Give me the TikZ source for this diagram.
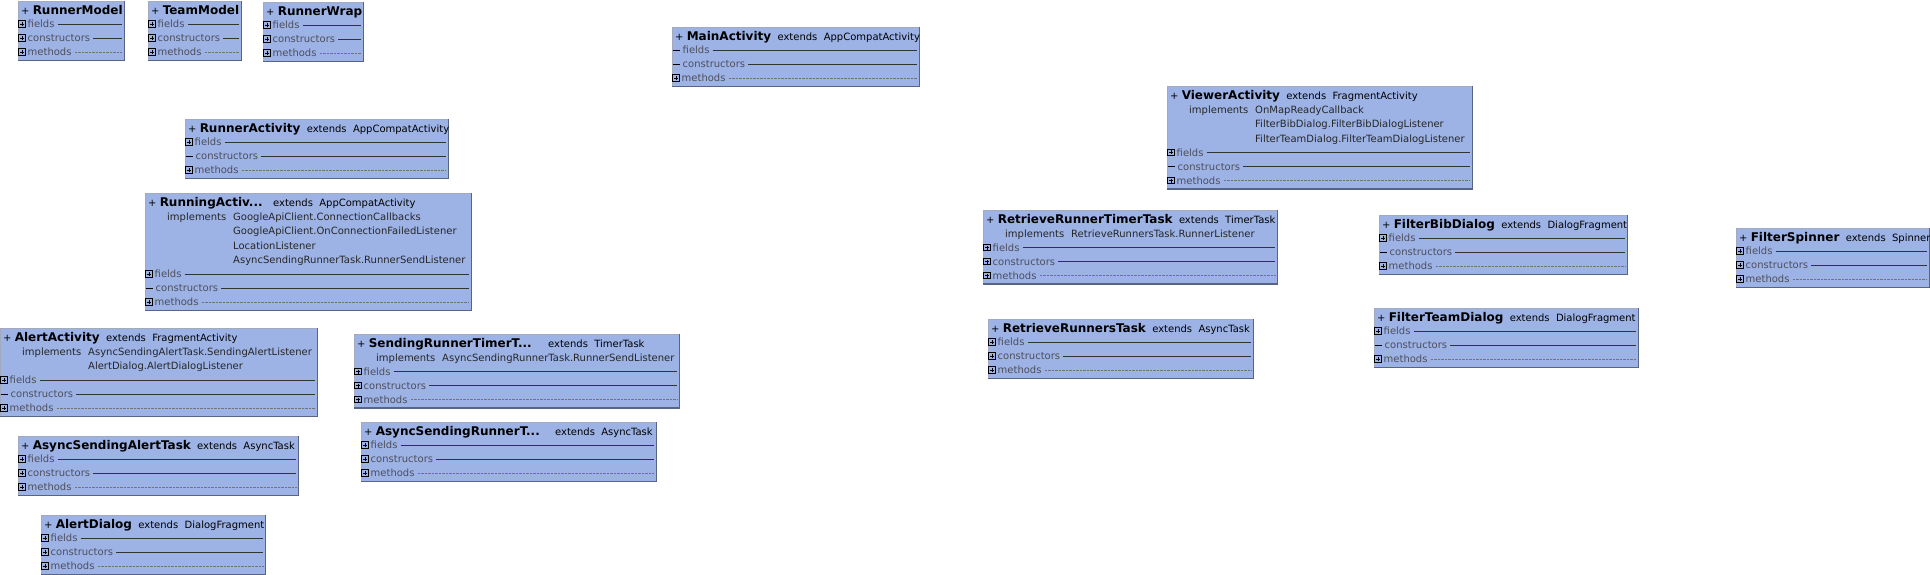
\documentclass[tikz,border=0pt]{standalone}
\usepackage{fontspec}
\setmainfont{DejaVu Sans}
\usetikzlibrary{calc}

\definecolor{classfill}{RGB}{157,179,230}
\definecolor{classedge}{RGB}{88,100,135}
\definecolor{rowgray}{RGB}{78,78,92}

\tikzset{
  classbox/.style={fill=classfill, draw=classedge!55, line width=0.6pt, inner sep=0pt, anchor=north west},
  shadowedge/.style={draw=classedge, line width=1.6pt},
  titletext/.style={inner sep=0pt, anchor=west, text height=8.8pt, text depth=0pt, font=\fontsize{10}{12}\selectfont},
  headtext/.style={inner sep=0pt, anchor=west, text height=7.3pt, text depth=0pt, font=\fontsize{10}{12}\selectfont, text=black!85},
  rowtext/.style={inner sep=0pt, anchor=west, text height=7.3pt, text depth=0pt, font=\fontsize{10}{12}\selectfont, text=rowgray},
  rowrule/.style={draw=black!80, line width=0.8pt},
  methodrule/.style={draw=black!55, line width=0.5pt, dash pattern=on 0.4pt off 1pt},
  iconbox/.style={draw=black, line width=0.7pt},
}

\newcommand{\cname}[1]{{\fontsize{12}{14}\selectfont\bfseries #1}}
\newcommand{\tdots}{...}
%% p = expandable section, m = empty section
\newcommand{\rowmark}[2]{%
  \if#1p%
    \draw[iconbox] ($(#2)+(0.8,-3.2)$) rectangle ($(#2)+(7.2,3.2)$);
    \draw[iconbox] ($(#2)+(2,0)$) -- ($(#2)+(6,0)$);
    \draw[iconbox] ($(#2)+(4,-2)$) -- ($(#2)+(4,2)$);
    \gdef\rowx{9.5}%
  \else
    \draw[iconbox] ($(#2)+(0.5,0)$) -- ($(#2)+(7.5,0)$);
    \gdef\rowx{10.5}%
  \fi}

\begin{document}
\begin{tikzpicture}[x=1pt,y=-1pt]
  \fill[white] (0,0) rectangle (1930,575);
  \useasboundingbox (0,0) rectangle (1930,575);

  %% Building the class boxes
  \foreach \id/\bx/\bxr/\by/\n/\ia/\ib/\ic/\ttl in {
    rmodel/18/124/1/0/p/p/p/{\cname{RunnerModel}},
    tmodel/148/241/1/0/p/p/p/{\cname{TeamModel}},
    rwrap/263/363/2/0/p/p/p/{\cname{RunnerWrap}},
    main/672/919/27/0/m/m/p/{\cname{MainActivity}\ \ extends\ \ AppCompatActivity},
    ract/185/448/119/0/p/m/p/{\cname{RunnerActivity}\ \ extends\ \ AppCompatActivity},
    view/1167/1472/86/3/p/m/p/{\cname{ViewerActivity}\ \ extends\ \ FragmentActivity},
    rung/145/471/193/4/p/m/p/{\makebox[107pt][l]{\cname{RunningActiv\tdots}}\ \ extends\ \ AppCompatActivity},
    rrtt/983/1277/210/1/p/p/p/{\cname{RetrieveRunnerTimerTask}\ \ extends\ \ TimerTask},
    fbib/1379/1627/215/0/p/m/p/{\cname{FilterBibDialog}\ \ extends\ \ DialogFragment},
    fspin/1736/1929/228/0/p/p/p/{\cname{FilterSpinner}\ \ extends\ \ Spinner},
    alert/0/317/328/2/p/m/p/{\cname{AlertActivity}\ \ extends\ \ FragmentActivity},
    srtt/354/679/334/1/p/p/p/{\makebox[173pt][l]{\cname{SendingRunnerTimerT\tdots}}\ \ extends\ \ TimerTask},
    rrt/988/1253/319/0/p/p/p/{\cname{RetrieveRunnersTask}\ \ extends\ \ AsyncTask},
    fteam/1374/1638/308/0/p/m/p/{\cname{FilterTeamDialog}\ \ extends\ \ DialogFragment},
    asat/18/298/436/0/p/p/p/{\cname{AsyncSendingAlertTask}\ \ extends\ \ AsyncTask},
    asrt/361/656/422/0/p/p/p/{\makebox[173pt][l]{\cname{AsyncSendingRunnerT\tdots}}\ \ extends\ \ AsyncTask},
    adlg/41/265/515/0/p/p/p/{\cname{AlertDialog}\ \ extends\ \ DialogFragment}}
  {
    \pgfmathsetmacro{\bw}{\bxr-\bx}
    \pgfmathsetmacro{\bh}{59+14.5*\n}
    \node[classbox, minimum width=\bw pt, minimum height=\bh pt] (\id) at (\bx,\by) {};
    \draw[shadowedge] (\id.north east) -- (\id.south east) -- (\id.south west);
    \node[titletext] (\id-t) at ($(\id.north west)+(3,9)$) {+ \ttl};
    \foreach \rw/\lab/\mk/\rs in {1/fields/\ia/rowrule, 2/constructors/\ib/rowrule, 3/methods/\ic/methodrule}
    {
      \coordinate (\id-m\rw) at ($(\id.north west)+(0,{9+14.5*\n+14*\rw})$);
      \rowmark{\mk}{\id-m\rw}
      \node[rowtext] (\id-r\rw) at ($(\id-m\rw)+(\rowx,0)$) {\lab};
      \coordinate (\id-e\rw) at (\id.east |- \id-m\rw);
      \draw[\rs] ($(\id-r\rw.east)+(3,0)$) -- ($(\id-e\rw)+(-2.5,0)$);
    }
  }

  %% Implemented interfaces
  \foreach \id in {view,rung,rrtt,alert,srtt}
    \node[headtext] (\id-impl) at ($(\id.north west)+(22,23.5)$) {implements};
  \foreach \id/\hl/\itf in {view/1/OnMapReadyCallback,
    view/2/FilterBibDialog.FilterBibDialogListener,
    view/3/FilterTeamDialog.FilterTeamDialogListener,
    rung/1/GoogleApiClient.ConnectionCallbacks,
    rung/2/GoogleApiClient.OnConnectionFailedListener,
    rung/3/LocationListener,
    rung/4/AsyncSendingRunnerTask.RunnerSendListener,
    rrtt/1/RetrieveRunnersTask.RunnerListener,
    alert/1/AsyncSendingAlertTask.SendingAlertListener,
    alert/2/AlertDialog.AlertDialogListener,
    srtt/1/AsyncSendingRunnerTask.RunnerSendListener}
    \node[headtext] (\id-i\hl) at ($(\id.north west)+(88,{9+14.5*\hl})$) {\itf};

\end{tikzpicture}
\end{document}
